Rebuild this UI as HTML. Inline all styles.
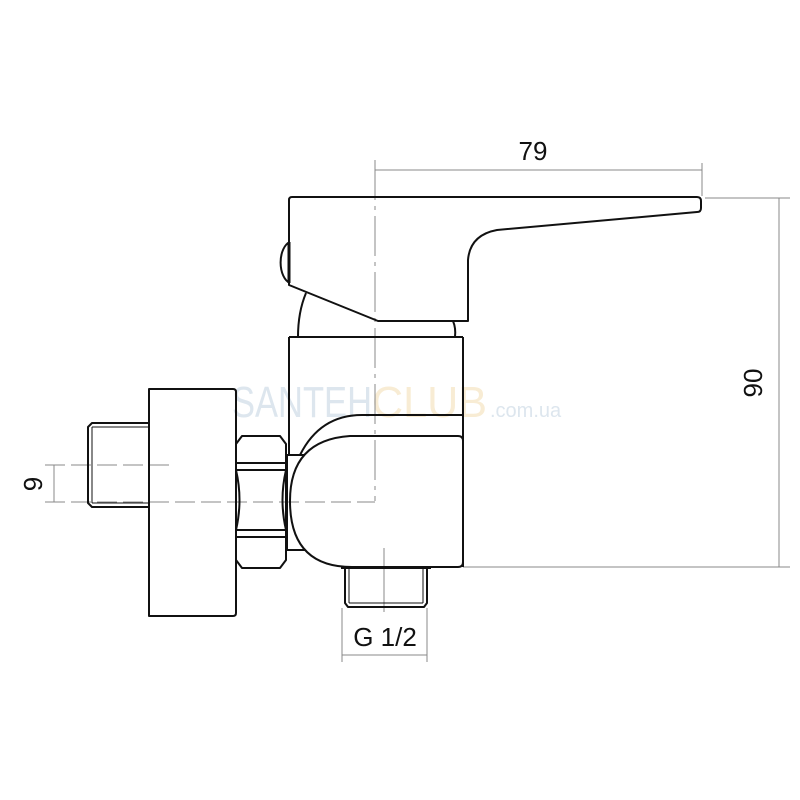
<!DOCTYPE html>
<html><head><meta charset="utf-8"><style>
html,body{margin:0;padding:0;background:#fff}
svg{display:block}
</style></head><body>
<svg width="800" height="800" viewBox="0 0 800 800" xmlns="http://www.w3.org/2000/svg">
<rect width="800" height="800" fill="#fff"/>
<!-- watermark -->
<text x="232" y="417" font-family="Liberation Sans, sans-serif" font-size="44" fill="#dde6ee" textLength="140" lengthAdjust="spacingAndGlyphs">SANTEH</text>
<text x="372" y="417" font-family="Liberation Sans, sans-serif" font-size="44" fill="#f8ecd4" textLength="115" lengthAdjust="spacingAndGlyphs">CLUB</text>
<text x="490" y="417" font-family="Liberation Sans, sans-serif" font-size="20" fill="#dde6ee">.com.ua</text>

<g fill="none" stroke="#888" stroke-width="1">
  <line x1="375" y1="160" x2="375" y2="501" stroke-dasharray="40,6,4,6"/>
  <line x1="375" y1="170" x2="702" y2="170"/>
  <line x1="702" y1="163" x2="702" y2="196"/>
  <line x1="705" y1="198" x2="790" y2="198"/>
  <line x1="463" y1="567" x2="790" y2="567"/>
  <line x1="779" y1="198" x2="779" y2="567"/>
  <line x1="45" y1="465" x2="170" y2="465" stroke-dasharray="20,6"/>
  <line x1="45" y1="502" x2="375" y2="502" stroke-dasharray="20,6"/>
  <line x1="54" y1="465" x2="54" y2="502"/>
  <line x1="384" y1="548" x2="384" y2="612"/>
  <line x1="342" y1="608" x2="342" y2="662"/>
  <line x1="427" y1="608" x2="427" y2="662"/>
  <line x1="342" y1="655" x2="427" y2="655"/>
</g>

<g fill="none" stroke="#111" stroke-width="2" stroke-linejoin="round">
  <path d="M292,197 L697,197 Q701,197 701,201 L701,208 Q701,212 697,212 L497,230 Q470,235 468,260 L468,321 L378,321 L289,285 L289,200 Q289,197 292,197 Z"/>
  <path d="M290,242 A12,21 0 0 0 290,283"/>
  <line x1="289" y1="242" x2="289" y2="283" stroke-width="3"/>
  <path d="M306,293 Q298,312 298,337"/>
  <path d="M453,321 Q456,328 455,337"/>
  <line x1="289" y1="337" x2="463" y2="337"/>
  <line x1="289" y1="337" x2="289" y2="455"/>
  <line x1="463" y1="337" x2="463" y2="567"/>
  <path d="M300,455 Q320,415 362,415 L463,415"/>
  <path d="M458,436 L350,436 Q290,440 290,501 Q290,567 352,567 L458,567 Q463,567 463,562"/>
  <path d="M458,436 Q463,436 463,441"/>
  <path d="M305,455 L287,455 L287,550 L305,550"/>
  <path d="M242,436 L280,436 L286,444 L286,560 L280,568 L242,568 L236,560 L236,444 Z"/>
  <line x1="236" y1="463" x2="286" y2="463"/>
  <line x1="236" y1="470" x2="286" y2="470"/>
  <line x1="236" y1="530" x2="286" y2="530"/>
  <line x1="236" y1="537" x2="286" y2="537"/>
  <path d="M236,470 Q243,500 236,530"/>
  <path d="M286,470 Q279,500 286,530"/>
  <path d="M149,389 L233,389 Q236,389 236,392 L236,613 Q236,616 233,616 L149,616 Z"/>
  <path d="M149,423 L92,423 L88,427 L88,503 L92,507 L149,507"/>
  <line x1="92" y1="427" x2="149" y2="427" stroke-width="1"/>
  <line x1="92" y1="503" x2="149" y2="503" stroke-width="1"/>
  <line x1="92" y1="427" x2="92" y2="503" stroke-width="1"/>
  <path d="M345,568 L345,603 L348,607 L424,607 L427,603 L427,568"/>
  <line x1="341" y1="568" x2="431" y2="568"/>
  <line x1="349" y1="568" x2="349" y2="603" stroke-width="1"/>
  <line x1="423" y1="568" x2="423" y2="603" stroke-width="1"/>
  <line x1="349" y1="603" x2="423" y2="603" stroke-width="1"/>
</g>

<g font-family="Liberation Sans, sans-serif" font-size="26" fill="#111">
  <text x="533" y="160" text-anchor="middle">79</text>
  <text x="385" y="646" text-anchor="middle">G 1/2</text>
  <text transform="translate(762,383) rotate(-90)" text-anchor="middle">90</text>
  <text transform="translate(42,484) rotate(-90)" text-anchor="middle">9</text>
</g>
</svg>
</body></html>
